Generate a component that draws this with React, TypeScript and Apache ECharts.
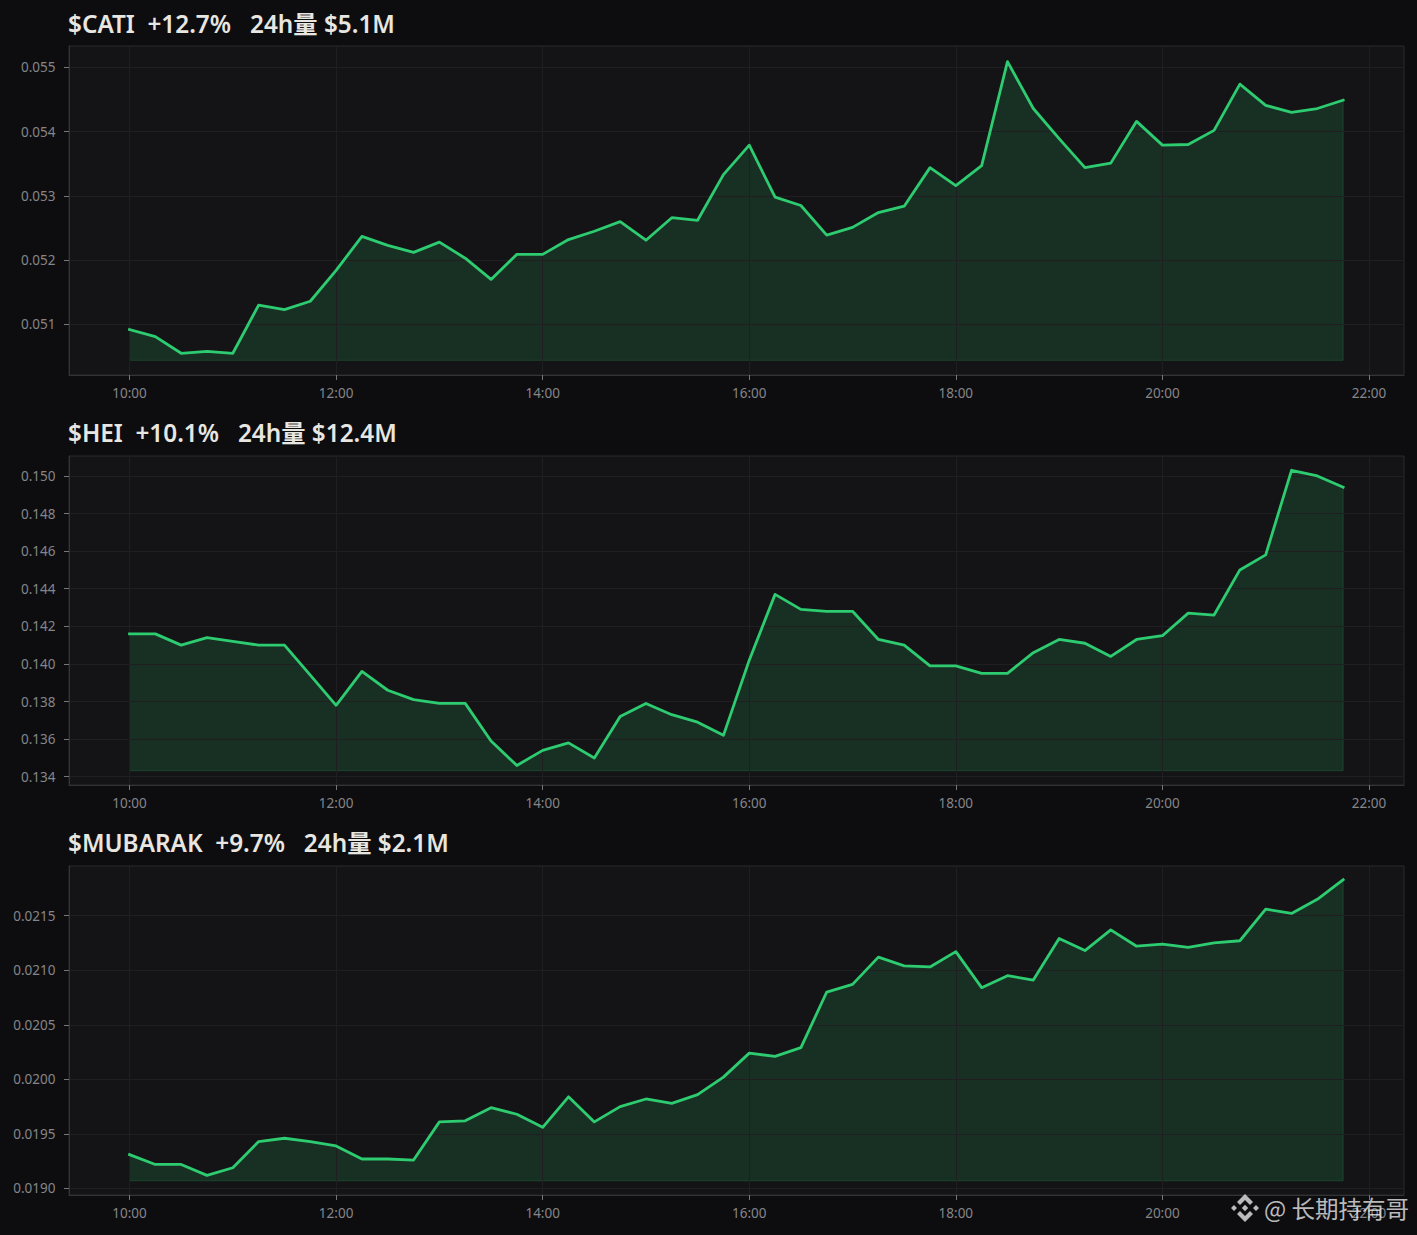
import React, { useEffect, useRef } from "react";
import * as echarts from "echarts";

const times = [
  "10:00","10:15","10:30","10:45","11:00","11:15","11:30","11:45",
  "12:00","12:15","12:30","12:45","13:00","13:15","13:30","13:45",
  "14:00","14:15","14:30","14:45","15:00","15:15","15:30","15:45",
  "16:00","16:15","16:30","16:45","17:00","17:15","17:30","17:45",
  "18:00","18:15","18:30","18:45","19:00","19:15","19:30","19:45",
  "20:00","20:15","20:30","20:45","21:00","21:15","21:30","21:45",
];
const cati = [
  0.05092,0.05081,0.05055,0.05058,0.05055,0.0513,0.05123,0.05136,
  0.05184,0.05237,0.05223,0.05212,0.05228,0.05203,0.0517,0.05209,
  0.05209,0.05232,0.05245,0.0526,0.05231,0.05266,0.05262,0.05333,
  0.05379,0.05298,0.05285,0.05239,0.05251,0.05274,0.05284,0.05344,
  0.05316,0.05347,0.05509,0.05436,0.05389,0.05344,0.05351,0.05416,
  0.05379,0.0538,0.05402,0.05474,0.05441,0.0543,0.05436,0.05449,
];
const hei = [
  0.1416,0.1416,0.141,0.1414,0.1412,0.141,0.141,0.1394,
  0.1378,0.1396,0.1386,0.1381,0.1379,0.1379,0.1359,0.1346,
  0.1354,0.1358,0.135,0.1372,0.1379,0.1373,0.1369,0.1362,
  0.1402,0.1437,0.1429,0.1428,0.1428,0.1413,0.141,0.1399,
  0.1399,0.1395,0.1395,0.1406,0.1413,0.1411,0.1404,0.1413,
  0.1415,0.1427,0.1426,0.145,0.1458,0.1503,0.15,0.1494,
];
const mubarak = [
  0.01931,0.01922,0.01922,0.01912,0.01919,0.01943,0.01946,0.01943,
  0.01939,0.01927,0.01927,0.01926,0.01961,0.01962,0.01974,0.01968,
  0.01956,0.01984,0.01961,0.01975,0.01982,0.01978,0.01986,0.02002,
  0.02024,0.02021,0.02029,0.0208,0.02087,0.02112,0.02104,0.02103,
  0.02117,0.02084,0.02095,0.02091,0.02129,0.02118,0.02137,0.02122,
  0.02124,0.02121,0.02125,0.02127,0.02156,0.02152,0.02165,0.02183,
];
const titles = [
  "$CATI  +12.7%   24h量 $5.1M",
  "$HEI  +10.1%   24h量 $12.4M",
  "$MUBARAK  +9.7%   24h量 $2.1M",
];
const seriesValues = [cati, hei, mubarak];
const baselines = [0.05044, 0.13432, 0.01907];
const yMins = [0.050212, 0.13356, 0.01894];
const yMaxs = [0.055333, 0.15106, 0.021955];
const yTicks = [
  [0.051, 0.052, 0.053, 0.054, 0.055],
  [0.134, 0.136, 0.138, 0.14, 0.142, 0.144, 0.146, 0.148, 0.15],
  [0.019, 0.0195, 0.02, 0.0205, 0.021, 0.0215],
];
const yDecimals = [3, 3, 4];
const xTickHours = [10, 12, 14, 16, 18, 20, 22];
const xMin = 9.414;
const xMax = 22.339;

const gridTops = [46, 456, 866];
const gridHeight = 329;
const titleCentres = [23, 432, 842];
const FONT = '"Noto Sans", "Noto Sans CJK SC", sans-serif';
const LOGO =
  "M0 -14 L8 -6 L5 -3 L0 -8 L-5 -3 L-8 -6 Z " +
  "M0 14 L8 6 L5 3 L0 8 L-5 3 L-8 6 Z " +
  "M-14 0 L-11 -3 L-8 0 L-11 3 Z " +
  "M14 0 L11 -3 L8 0 L11 3 Z " +
  "M0 -3.2 L3.2 0 L0 3.2 L-3.2 0 Z";

const toHour = (t: string) => {
  const [h, m] = t.split(":").map(Number);
  return h + m / 60;
};
const hourLabel = (h: number) => `${String(h).padStart(2, "0")}:00`;

export default function App() {
  const ref = useRef<HTMLDivElement>(null);
  useEffect(() => {
    document.body.style.margin = "0";
    document.body.style.background = "#0d0d0f";
    const Logo = (echarts.graphic as any).extendPath(LOGO, {});
    echarts.graphic.registerShape("binanceLogo", Logo);
    const chart = echarts.init(ref.current!, undefined, { renderer: "svg" });
    const series: any[] = [];
    seriesValues.forEach((vals, i) => {
      const data = vals.map((v, k) => [toHour(times[k]), v]);
      const last = data[data.length - 1];
      series.push({
        type: "line",
        xAxisIndex: i,
        yAxisIndex: i,
        silent: true,
        symbol: "none",
        z: 1,
        lineStyle: { width: 0 },
        areaStyle: { origin: baselines[i], color: "rgba(46,204,113,0.15)", opacity: 1 },
        data,
      });
      series.push({
        type: "line",
        xAxisIndex: i,
        yAxisIndex: i,
        silent: true,
        symbol: "none",
        z: 1,
        lineStyle: { width: 1, color: "rgba(46,204,113,0.2)" },
        data: [data[0], [data[0][0], baselines[i]], [last[0], baselines[i]], last],
      });
      series.push({
        type: "line",
        xAxisIndex: i,
        yAxisIndex: i,
        symbol: "none",
        z: 4,
        lineStyle: { width: 2.8, color: "#2ecc71", join: "round", cap: "square" },
        data,
      });
    });
    chart.setOption({
      animation: false,
      backgroundColor: "#0d0d0f",
      title: titles.map((text, i) => ({
        text,
        left: 68,
        top: titleCentres[i] - 16,
        padding: 0,
        textStyle: { color: "#e8e6e1", fontSize: 24.3, fontWeight: 600, fontFamily: FONT, lineHeight: 32 },
      })),
      grid: gridTops.map((top) => ({
        left: 69,
        top,
        width: 1335,
        height: gridHeight,
        show: true,
        backgroundColor: "#141416",
        borderColor: "#2a2a2c",
        borderWidth: 1,
      })),
      xAxis: gridTops.map((_, i) => ({
        type: "value",
        gridIndex: i,
        z: 2,
        min: xMin,
        max: xMax,
        axisLine: { show: true, onZero: false, lineStyle: { color: "#333336" } },
        axisTick: { show: true, length: 5, customValues: xTickHours, lineStyle: { color: "#77777a" } },
        axisLabel: {
          show: true,
          customValues: xTickHours,
          margin: 11,
          color: "#85858a",
          fontSize: 13.5,
          fontFamily: FONT,
          formatter: (v: number) => hourLabel(v),
        },
        splitLine: { show: true, lineStyle: { color: "#1f1f21", width: 1 } },
      })),
      yAxis: gridTops.map((_, i) => ({
        type: "value",
        gridIndex: i,
        z: 2,
        min: yMins[i],
        max: yMaxs[i],
        axisLine: { show: true, onZero: false, lineStyle: { color: "#333336" } },
        axisTick: { show: true, length: 5, customValues: yTicks[i], lineStyle: { color: "#77777a" } },
        axisLabel: {
          show: true,
          customValues: yTicks[i],
          margin: 13.5,
          color: "#85858a",
          fontSize: 13.5,
          fontFamily: FONT,
          formatter: (v: number) => v.toFixed(yDecimals[i]),
        },
        splitLine: { show: true, lineStyle: { color: "#1f1f21", width: 1 } },
      })),
      series,
      graphic: [
        {
          type: "binanceLogo",
          x: 1245,
          y: 1208,
          z: 100,
          style: { fill: "rgba(255,255,255,0.72)" },
        },
        {
          type: "text",
          x: 1264,
          y: 1208,
          z: 100,
          style: {
            text: "@ 长期持有哥",
            fill: "rgba(255,255,255,0.72)",
            fontSize: 23.5,
            fontFamily: '"Noto Sans CJK SC", sans-serif',
            verticalAlign: "middle",
          },
        },
      ],
    });
    return () => chart.dispose();
  }, []);
  return <div ref={ref} style={{ position: "absolute", left: 0, top: 0, width: 1417, height: 1235 }} />;
}
